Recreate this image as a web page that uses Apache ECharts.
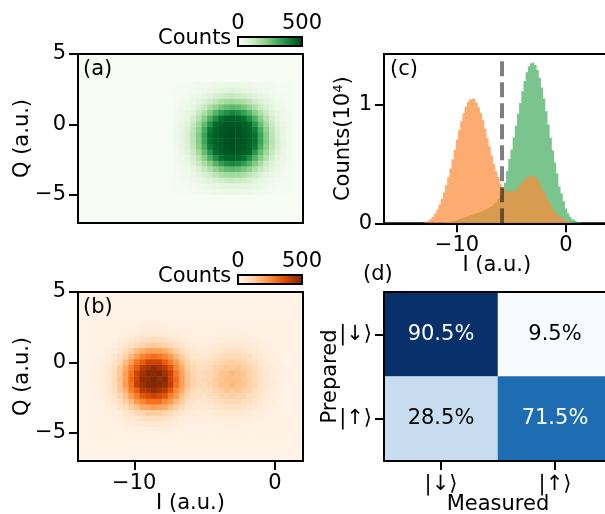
<!DOCTYPE html>
<html><head><meta charset="utf-8">
<style>html,body{margin:0;padding:0;background:#fff;overflow:hidden}#c{width:605px;height:514px}</style>
<script src="https://cdn.jsdelivr.net/npm/echarts@6/dist/echarts.min.js"></script>
</head><body><div id="c"></div>
<script>
// ---------- data ----------
// Panel (a): counts, rows from Q=2.8 down to Q=-4.8, columns from I=-7.0 to I=1.0 (0.4 bins)
const countsA = [
[8,10,12,14,17,22,27,33,38,42,44,42,38,33,27,22,17,14,12,10,8],
[9,12,15,20,27,35,44,54,64,70,72,69,63,55,45,34,26,21,15,11,9],
[11,15,21,29,40,55,72,90,105,116,120,117,104,89,71,54,41,28,21,15,11],
[14,19,28,41,60,84,111,140,165,182,188,181,163,141,110,83,59,42,27,20,13],
[17,25,38,58,87,122,165,207,244,270,279,271,243,205,164,123,86,57,39,24,17],
[21,32,50,79,119,170,229,289,341,376,389,375,339,291,227,169,118,78,49,32,20],
[24,39,63,101,154,221,298,376,430,452,458,450,428,374,296,219,152,100,62,38,23],
[27,45,75,122,186,267,360,438,462,470,474,468,460,436,357,264,183,120,73,44,26],
[30,51,86,138,212,305,410,452,468,476,480,475,466,450,407,303,210,136,85,50,29],
[32,54,91,147,226,325,430,458,472,480,484,480,470,456,428,322,224,145,89,52,31],
[31,53,90,146,227,323,428,456,470,482,485,478,472,458,430,326,226,147,91,54,32],
[29,50,85,137,211,303,409,450,466,474,478,474,468,452,410,305,213,139,87,51,30],
[26,44,74,121,185,266,358,436,460,468,472,470,462,439,359,268,186,123,76,45,27],
[23,38,62,100,153,220,296,375,428,450,456,448,426,376,298,222,155,102,64,39,24],
[20,32,49,78,118,169,227,287,340,375,387,376,341,290,229,171,120,80,51,33,21],
[16,24,38,57,86,122,163,206,243,269,278,270,245,208,166,124,88,59,39,25,17],
[13,19,27,41,59,83,110,139,164,181,187,182,166,142,112,85,61,43,29,20,14],
[11,15,20,29,40,54,71,89,104,115,119,116,106,91,73,56,42,30,22,15,11],
[9,11,15,20,26,34,44,54,63,69,71,70,64,55,45,36,27,21,15,12,9],
[8,10,11,14,17,21,26,33,38,41,43,42,39,34,28,23,18,15,12,10,8]
];
// Panel (b): counts, rows from Q=2.8 down to Q=-5.2, columns from I=-13.0 to I=0.6 (0.4 bins)
const countsB = [
[12,12,12,13,13,14,15,16,18,19,21,22,21,19,17,15,14,14,13,13,13,14,14,15,15,16,15,15,14,14,13,13,12,12,12],
[12,12,13,14,15,17,19,22,25,28,31,32,33,30,26,22,19,17,16,15,16,16,17,18,19,20,19,18,17,16,15,14,13,13,12],
[12,13,14,15,17,22,27,34,40,46,52,53,50,46,39,34,27,23,19,18,18,21,23,25,27,27,26,25,23,21,18,16,15,13,12],
[13,14,15,18,23,31,41,52,63,76,81,87,82,74,65,52,41,34,27,25,26,29,31,35,37,39,36,35,31,27,23,19,16,15,13],
[13,15,18,23,31,43,57,79,95,117,127,134,126,116,99,76,60,47,38,35,35,39,44,48,52,55,53,47,43,36,29,24,19,16,14],
[14,16,20,29,43,62,90,120,160,185,210,212,208,190,155,122,90,63,52,45,46,50,60,66,73,75,71,67,56,48,36,30,22,18,15],
[15,18,24,37,55,85,120,172,215,268,288,305,290,260,222,165,125,87,68,58,60,65,78,85,96,95,95,84,76,59,48,35,28,20,17],
[15,19,28,42,70,105,160,215,292,335,385,385,384,338,280,222,155,110,82,72,70,83,92,109,115,124,114,108,89,76,55,43,30,24,18],
[16,21,30,51,78,130,192,272,335,418,440,470,440,412,350,258,190,126,100,82,86,92,113,124,140,138,141,122,109,84,67,47,36,24,19],
[17,22,34,53,90,138,216,298,388,445,490,480,495,450,392,288,210,146,105,95,90,108,120,146,148,165,150,145,117,98,70,55,36,28,19],
[17,23,33,57,88,148,214,312,390,480,475,500,472,485,388,305,218,145,115,92,98,104,128,140,160,158,160,138,124,94,76,52,39,26,21],
[18,21,35,55,93,140,222,298,405,460,495,490,485,465,400,295,212,150,108,97,93,110,123,148,153,167,153,146,118,99,72,56,37,28,19],
[16,22,31,53,83,132,185,274,330,422,436,475,442,418,345,256,192,124,102,80,88,90,116,122,142,136,143,120,110,83,68,46,37,24,20],
[15,19,26,44,66,110,154,224,280,348,372,398,375,348,275,225,152,112,80,74,68,85,90,111,113,127,112,110,87,78,54,44,29,25,17],
[15,17,25,35,58,82,125,166,224,260,298,298,296,257,225,163,127,84,70,56,62,63,80,84,98,93,97,82,78,58,49,34,29,20,18],
[14,16,19,30,41,65,86,124,153,192,203,218,203,192,152,125,88,65,50,46,44,52,58,68,70,77,70,68,54,49,35,31,21,19,14],
[13,15,18,22,32,42,60,75,99,112,131,128,130,112,100,74,62,45,39,34,36,38,45,47,54,53,54,46,44,35,30,23,20,15,15],
[13,14,15,18,23,30,41,51,66,73,84,83,84,73,66,50,42,33,28,24,27,28,32,34,38,37,38,34,32,26,24,18,17,14,14],
[12,13,14,15,17,22,27,34,39,46,51,53,51,46,39,34,27,23,19,18,18,21,23,25,26,27,26,25,23,21,18,16,15,13,12],
[12,12,13,14,15,17,19,22,24,27,30,30,31,28,24,21,19,17,16,15,16,16,17,18,19,19,19,18,17,16,15,14,13,13,12],
[12,12,12,13,13,14,15,16,17,19,20,21,20,18,17,15,14,14,13,13,13,14,14,15,15,15,15,15,14,14,13,13,12,12,12]
];
// Panel (c): histogram, units of 10^4
const histI = [-13.2,-13,-12.8,-12.6,-12.4,-12.2,-12,-11.8,-11.6,-11.4,-11.2,-11,-10.8,-10.6,-10.4,-10.2,-10,-9.8,-9.6,-9.4,-9.2,-9,-8.8,-8.6,-8.4,-8.2,-8,-7.8,-7.6,-7.4,-7.2,-7,-6.8,-6.6,-6.4,-6.2,-6,-5.8,-5.6,-5.4,-5.2,-5,-4.8,-4.6,-4.4,-4.2,-4,-3.8,-3.6,-3.4,-3.2,-3,-2.8,-2.6,-2.4,-2.2,-2,-1.8,-1.6,-1.4,-1.2,-1,-0.8,-0.6,-0.4,-0.2,0,0.2,0.4,0.6,0.8,1,1.2,1.4,1.6];
const histOrange = [0,0.005,0.012,0.022,0.036,0.056,0.08,0.115,0.158,0.205,0.258,0.319,0.386,0.46,0.539,0.62,0.704,0.783,0.858,0.925,0.98,1.02,1.04,1.053,1.04,1.015,0.975,0.925,0.865,0.795,0.715,0.645,0.57,0.5,0.44,0.39,0.335,0.3,0.275,0.265,0.268,0.265,0.27,0.28,0.3,0.325,0.345,0.365,0.385,0.395,0.405,0.395,0.385,0.365,0.335,0.295,0.26,0.225,0.19,0.155,0.12,0.095,0.075,0.055,0.04,0.028,0.018,0.011,0.006,0.003,0.001,0,0,0,0];
const histGreen = [0,0,0,0,0,0.001,0.002,0.003,0.004,0.005,0.006,0.008,0.01,0.014,0.018,0.022,0.028,0.034,0.04,0.046,0.052,0.058,0.065,0.071,0.078,0.084,0.09,0.097,0.105,0.114,0.125,0.135,0.145,0.158,0.175,0.205,0.24,0.29,0.34,0.44,0.54,0.62,0.72,0.82,0.92,1.01,1.11,1.195,1.27,1.32,1.345,1.355,1.331,1.288,1.224,1.142,1.046,0.941,0.83,0.718,0.612,0.51,0.419,0.31,0.25,0.185,0.125,0.085,0.055,0.035,0.02,0.011,0.006,0.003,0.001];
const thresholdI = [-5.87, -5.87];
const thresholdH = [0, 1.37];
// Panel (d)
const stateLabels = ['|↓⟩', '|↑⟩'];
const preparedOrder = ['|↑⟩', '|↓⟩'];
const fidelity = [[0,1,90.5],[1,1,9.5],[0,0,28.5],[1,0,71.5]];
// Tick labels
const iTicks = [-10, 0];
const qTicks = [-5, 0, 5];
const cTicks = [0, 1];

// ---------- style ----------
const FF = 'DejaVu Sans';
const FS = 21;
const GREENS = ['#f7fcf5','#e5f5e0','#c7e9c0','#a1d99b','#74c476','#41ab5d','#238b45','#006d2c','#00441b'];
const ORANGES = ['#fff5eb','#fee6ce','#fdd0a2','#fdae6b','#fd8d3c','#f16913','#d94801','#a63603','#7f2704'];
const BLUES = ['#f7fbff','#deebf7','#c6dbef','#9ecae1','#6baed6','#4292c6','#2171b5','#08519c','#08306b'];
const minus = v => String(v).replace('-', '\u2212');
const lineS = {show:true, onZero:false, lineStyle:{color:'#000', width:2}};
const tickS = {show:true, length:9, lineStyle:{color:'#000', width:2}};
const labS = {color:'#000', fontFamily:FF, fontSize:FS, formatter:minus};
const nameS = {color:'#000', fontFamily:FF, fontSize:FS};
const nameFree = {nameLocation:'middle', nameMoveOverlap:false, nameTextStyle:nameS};

const binsI = Array.from({length:40}, (_, k) => k);
const binsQ = Array.from({length:30}, (_, m) => m);
function cells(rows, k0, mTop){
  const out = [];
  rows.forEach((r, j) => r.forEach((v, i) => out.push([k0 + i, mTop - j, v])));
  return out;
}
const O = {outerBoundsMode:'none'};
const G = [
  {...O, left:78, top:54, width:225, height:169, show:true, backgroundColor:'#f6fcf4', borderColor:'#000', borderWidth:2},
  {...O, left:78, top:292, width:225, height:169, show:true, backgroundColor:'#fff3e8', borderColor:'#000', borderWidth:2},
  {...O, left:384, top:54, width:225.6, height:169.3, show:true, backgroundColor:'#fff', borderColor:'#000', borderWidth:2},
  {...O, left:384, top:292, width:228, height:169, show:false},
  {...O, left:238, top:37, width:64, height:9, show:false},
  {...O, left:238, top:275, width:64, height:9, show:false}
];
const hiddenCat = (g, data) => ({type:'category', gridIndex:g, data, show:false, boundaryGap:true});
const xAxes = [
  hiddenCat(0, binsI),                                                        //0
  {type:'value', gridIndex:0, min:-14, max:2, show:false},                    //1
  hiddenCat(1, binsI),                                                        //2
  {type:'value', gridIndex:1, min:-14, max:2, position:'bottom', splitLine:{show:false}, axisLine:lineS, axisTick:{...tickS, customValues:iTicks}, axisLabel:{...labS, margin:12, customValues:iTicks},
    name:'I (a.u.)', nameGap:32, ...nameFree}, //3
  {type:'value', gridIndex:2, min:-16.7, max:4, position:'bottom', splitLine:{show:false}, axisLine:lineS, axisTick:{...tickS, customValues:iTicks}, axisLabel:{...labS, margin:12, customValues:iTicks},
    name:'I (a.u.)', nameGap:32, ...nameFree}, //4
  {type:'category', gridIndex:3, data:stateLabels, position:'bottom', z:5, axisLine:lineS, axisTick:{...tickS, alignWithLabel:true}, axisLabel:{...labS, margin:13},
    name:'Measured', nameGap:33, ...nameFree}, //5
  {type:'category', gridIndex:3, data:stateLabels, position:'top', z:5, axisLine:lineS, axisTick:{show:false}, axisLabel:{show:false}}, //6
  {type:'value', gridIndex:4, min:0, max:500, interval:500, position:'top', z:5, splitLine:{show:false}, axisLine:{show:false}, axisTick:{show:true, length:7, lineStyle:{color:'#000', width:2}}, axisLabel:{...labS, margin:3, showMinLabel:true, showMaxLabel:true}}, //7
  {type:'value', gridIndex:5, min:0, max:500, interval:500, position:'top', z:5, splitLine:{show:false}, axisLine:{show:false}, axisTick:{show:true, length:7, lineStyle:{color:'#000', width:2}}, axisLabel:{...labS, margin:3, showMinLabel:true, showMaxLabel:true}}  //8
];
const qAxis = g => ({type:'value', gridIndex:g, min:-7, max:5, position:'left', splitLine:{show:false}, axisLine:lineS, axisTick:{...tickS, customValues:qTicks}, axisLabel:{...labS, margin:12, customValues:qTicks},
    name:'Q (a.u.)', nameGap:45, nameRotate:90, ...nameFree});
const yAxes = [
  hiddenCat(0, binsQ),  //0
  qAxis(0),             //1
  hiddenCat(1, binsQ),  //2
  qAxis(1),             //3
  {type:'value', gridIndex:2, min:0, max:1.4227, position:'left', splitLine:{show:false}, axisLine:lineS, axisTick:{...tickS, customValues:cTicks}, axisLabel:{...labS, margin:12, customValues:cTicks},
    name:'Counts(10⁴)', nameGap:30, nameRotate:90, ...nameFree}, //4
  {type:'category', gridIndex:3, data:preparedOrder, position:'left', z:5, axisLine:lineS, axisTick:{...tickS, alignWithLabel:true}, axisLabel:{...labS, margin:12},
    name:'Prepared', nameGap:43, nameRotate:90, ...nameFree}, //5
  {type:'value', gridIndex:4, min:0, max:1, show:false}, //6
  {type:'value', gridIndex:5, min:0, max:1, show:false}  //7
];
const heat = (name, xi, yi, data, extra) => Object.assign({name, type:'heatmap', xAxisIndex:xi, yAxisIndex:yi, data, silent:true, progressive:0, animation:false, emphasis:{disabled:true}}, extra || {});
const pct = fidelity.map(d => ({value:d, label:{color: d[2] > 50 ? '#fff' : '#000'}}));
const series = [
  heat('Prepared down', 0, 0, cells(countsA, 17, 24)),
  heat('Prepared up', 2, 2, cells(countsB, 2, 24)),
  {name:'Green histogram', type:'line', xAxisIndex:4, yAxisIndex:4, step:'middle', showSymbol:false, symbol:'none', silent:true, animation:false,
    data:histI.map((x, i) => [x, histGreen[i]]), lineStyle:{width:0}, itemStyle:{color:'#41ab5d'}, areaStyle:{color:'#41ab5d', opacity:0.7}},
  {name:'Orange histogram', type:'line', xAxisIndex:4, yAxisIndex:4, step:'middle', showSymbol:false, symbol:'none', silent:true, animation:false,
    data:histI.map((x, i) => [x, histOrange[i]]), lineStyle:{width:0}, itemStyle:{color:'#fb8d3b'}, areaStyle:{color:'#fb8d3b', opacity:0.73}},
  {name:'Threshold', type:'line', xAxisIndex:4, yAxisIndex:4, showSymbol:false, symbol:'none', silent:true, animation:false, z:4,
    data:thresholdI.map((x, i) => [x, thresholdH[i]]), lineStyle:{color:'rgba(0,0,0,0.5)', width:4, type:[15,6], cap:'butt'}},
  heat('Fidelity', 5, 5, pct, {label:{show:true, fontFamily:FF, fontSize:FS, formatter:p => p.value[2].toFixed(1) + '%'}}),
  {name:'cb1', type:'line', xAxisIndex:7, yAxisIndex:6, data:[]},
  {name:'cb2', type:'line', xAxisIndex:8, yAxisIndex:7, data:[]}
];
const vm = (seriesIndex, colors, left, top) => ({type:'continuous', seriesIndex, dimension:2, min:0, max:500, orient:'horizontal', left, top, itemWidth:9, itemHeight:64, padding:0, text:null, showLabel:false, calculable:false, realtime:false, inRange:{color:colors}, outOfRange:{color:colors[colors.length-1]}, handleStyle:{opacity:0}, indicatorStyle:{opacity:0}, z:1});
const T = (text, left, top) => ({text, left, top, padding:0, textStyle:{color:'#000', fontFamily:FF, fontSize:FS, fontWeight:'normal'}});
const box = (x, y) => ({type:'rect', z:100, silent:true, shape:{x, y, width:64, height:9}, style:{fill:'transparent', stroke:'#000', lineWidth:2}});
const chart = echarts.init(document.getElementById('c'), null, {renderer:'canvas'});
chart.setOption({
  animation:false,
  backgroundColor:'#fff',
  title:[T('(a)',83,59), T('(b)',83,297), T('(c)',390,59), T('(d)',363,264), T('Counts',158,28), T('Counts',158,266)],
  grid:G, xAxis:xAxes, yAxis:yAxes, series,
  visualMap:[
    vm(0, GREENS, 238, 37),
    vm(1, ORANGES, 238, 275),
    {type:'continuous', show:false, seriesIndex:5, dimension:2, min:9.5, max:90.5, inRange:{color:BLUES}}
  ],
  graphic:[box(238,37), box(238,275)]
});
</script></body></html>
